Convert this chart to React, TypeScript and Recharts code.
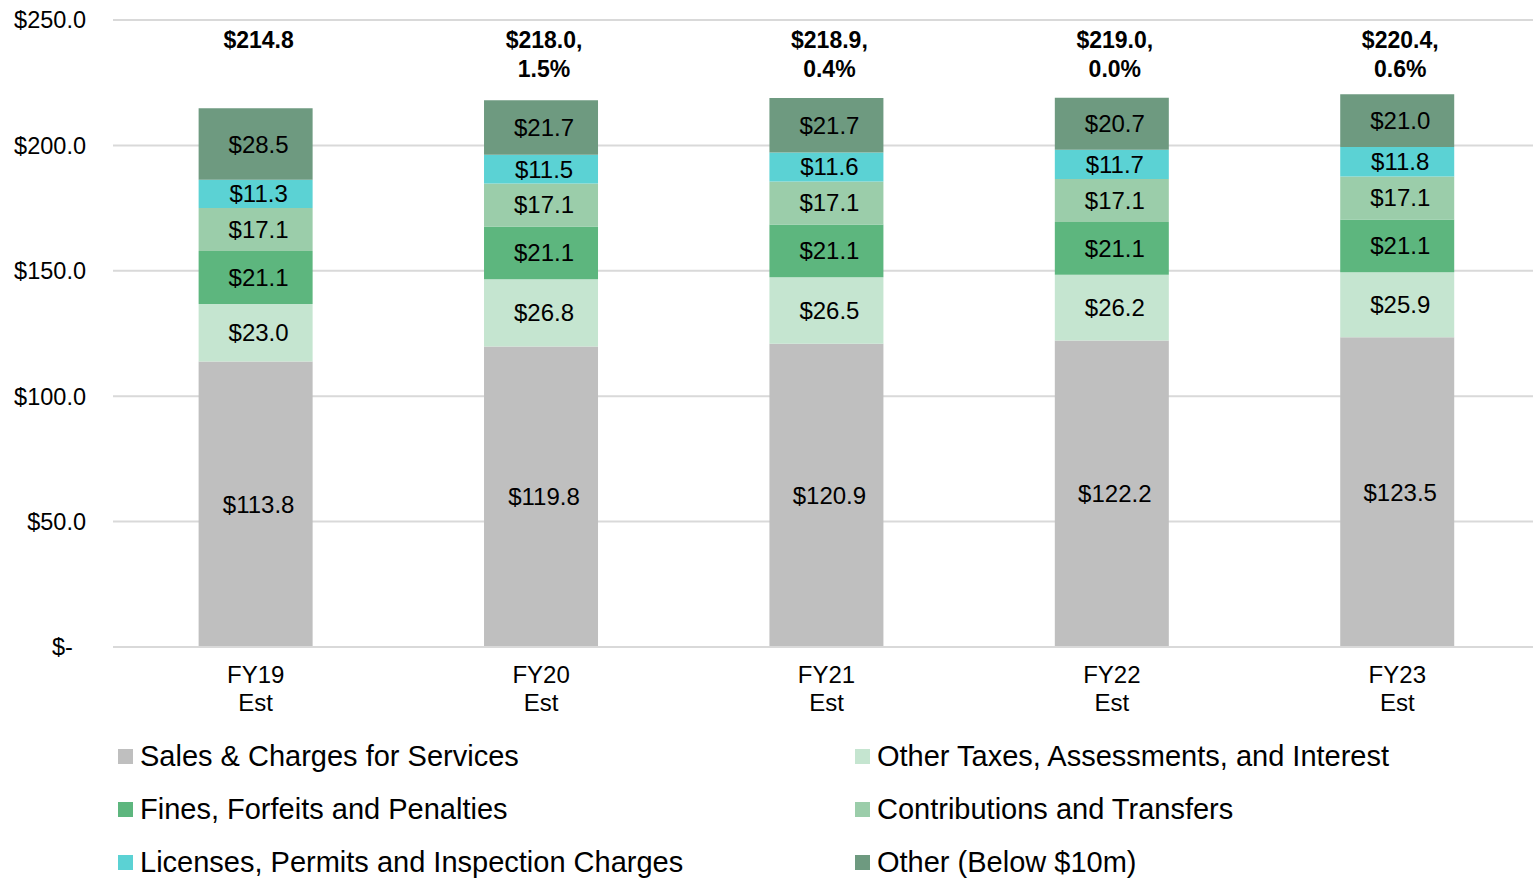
import React from "react";
import {
  BarChart,
  Bar,
  XAxis,
  YAxis,
  CartesianGrid,
  Legend,
  LabelList,
} from "recharts";

const years = ["FY19", "FY20", "FY21", "FY22", "FY23"];
const sales = [113.8, 119.8, 120.9, 122.2, 123.5];
const otherTaxes = [23.0, 26.8, 26.5, 26.2, 25.9];
const fines = [21.1, 21.1, 21.1, 21.1, 21.1];
const contributions = [17.1, 17.1, 17.1, 17.1, 17.1];
const licenses = [11.3, 11.5, 11.6, 11.7, 11.8];
const other = [28.5, 21.7, 21.7, 20.7, 21.0];
const totals = [214.8, 218.0, 218.9, 219.0, 220.4];
const growth = ["", "1.5%", "0.4%", "0.0%", "0.6%"];
const yTicks = [0, 50, 100, 150, 200, 250];

const data = years.map((year, i) => ({
  year,
  sales: sales[i],
  otherTaxes: otherTaxes[i],
  fines: fines[i],
  contributions: contributions[i],
  licenses: licenses[i],
  other: other[i],
}));

const series = [
  { key: "sales", name: "Sales & Charges for Services", color: "#bfbfbf" },
  { key: "otherTaxes", name: "Other Taxes, Assessments, and Interest", color: "#c5e5d0" },
  { key: "fines", name: "Fines, Forfeits and Penalties", color: "#5db67e" },
  { key: "contributions", name: "Contributions and Transfers", color: "#9bcdaa" },
  { key: "licenses", name: "Licenses, Permits and Inspection Charges", color: "#5bd2d4" },
  { key: "other", name: "Other (Below $10m)", color: "#6e9a80" },
];

const FONT = "'Liberation Sans', Arial, sans-serif";

const money = (v: number) => (v === 0 ? "$-\u00a0\u00a0" : `$${v.toFixed(1)}`);

const YearTick = ({ x, y, payload }: any) => (
  <text x={x} y={y} textAnchor="middle" fontSize={24} fill="#000" fontFamily={FONT}>
    <tspan x={x} dy={28}>{payload.value}</tspan>
    <tspan x={x} dy={28}>Est</tspan>
  </text>
);

const TotalLabel = ({ x, width, index }: any) => {
  const cx = x + width / 2 + 3;
  const g = growth[index];
  return (
    <text textAnchor="middle" fontSize={23} fontWeight="bold" fill="#000" fontFamily={FONT}>
      <tspan x={cx} y={48}>{`$${totals[index].toFixed(1)}${g ? "," : ""}`}</tspan>
      {g && <tspan x={cx} y={77}>{g}</tspan>}
    </text>
  );
};

// keep legend in the same order as the series (row by row, two columns)
const LegendGrid = () => (
  <div
    style={{
      display: "grid",
      gridTemplateColumns: "737px 700px",
      paddingLeft: 118,
      height: 149,
      fontFamily: FONT,
    }}
  >
    {series.map((s) => (
      <div key={s.key} style={{ display: "flex", alignItems: "center", height: 53 }}>
        <span style={{ width: 15, height: 15, background: s.color, marginRight: 7, display: "inline-block" }} />
        <span style={{ fontSize: 29, color: "#000", whiteSpace: "nowrap" }}>{s.name}</span>
      </div>
    ))}
  </div>
);

export default function App() {
  return (
    <div style={{ position: "absolute", left: 0, top: 0, background: "#fff" }}>
      <BarChart
        width={1533}
        height={879}
        data={data}
        margin={{ top: 20, right: -7, left: 0, bottom: 0 }}
        barCategoryGap="30%"
      >
        <CartesianGrid vertical={false} stroke="#d9d9d9" strokeWidth={2} />
        <XAxis
          dataKey="year"
          height={83}
          tick={<YearTick />}
          tickLine={false}
          axisLine={{ stroke: "#d9d9d9", strokeWidth: 2 }}
          interval={0}
        />
        <YAxis
          width={113}
          domain={[0, 250]}
          ticks={yTicks}
          tickFormatter={money}
          tickLine={false}
          axisLine={false}
          tickMargin={21}
          tick={{ fontSize: 23.5, fill: "#000", fontFamily: FONT }}
        />
        <Legend
          verticalAlign="bottom"
          content={<LegendGrid />}
          wrapperStyle={{ left: 0, bottom: 0, width: 1533, height: 149 }}
        />
        {series.map((s, i) => (
          <Bar
            key={s.key}
            dataKey={s.key}
            name={s.name}
            stackId="a"
            fill={s.color}
            isAnimationActive={false}
          >
            <LabelList
              dataKey={s.key}
              position="center"
              formatter={(v: any) => `$${Number(v).toFixed(1)}`}
              style={{ fontSize: 24, fill: "#000", fontFamily: FONT }}
              dx={3}
            />
            {i === series.length - 1 && <LabelList dataKey={s.key} content={<TotalLabel />} />}
          </Bar>
        ))}
      </BarChart>
    </div>
  );
}
